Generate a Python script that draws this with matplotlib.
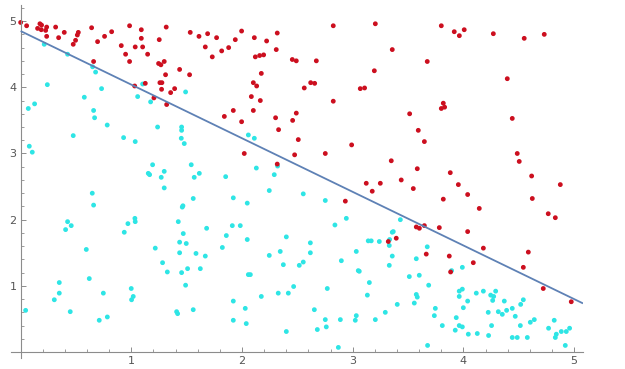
import matplotlib
matplotlib.use("Agg")
import matplotlib.pyplot as plt
import numpy as np
from matplotlib.ticker import MultipleLocator, FixedLocator

# ---- data ----
red_x = [0.000, 0.054, 0.153, 0.174, 0.189, 0.186, 0.226, 0.235, 0.235, 0.316, 0.343, 0.394,
         0.475, 0.496, 0.512, 0.521, 0.641, 0.659, 0.695, 0.758, 0.822, 0.909, 0.948, 0.984,
         0.984, 1.035, 1.090, 1.090, 1.102, 1.147, 1.126, 1.030, 1.252, 1.246, 1.267, 1.297,
         1.309, 1.258, 1.276, 1.273, 1.315, 1.204, 1.319, 1.355, 1.391, 1.436, 1.526, 1.532,
         1.611, 1.668, 1.689,
         1.770, 1.731, 1.816, 1.879, 1.939, 1.996, 2.111, 2.120, 2.159, 2.195, 2.222, 2.318,
         2.309, 2.454, 2.490, 2.671, 2.824, 3.204, 3.357, 3.195, 2.174, 2.102, 2.132, 2.084,
         2.165, 2.102, 1.921, 1.840, 1.996, 2.303, 2.330, 2.457, 2.490, 2.562, 2.620, 2.656,
         2.824, 3.068, 3.107, 2.508, 2.475, 2.020, 2.318, 2.752, 2.990, 3.348,
         3.800, 3.917, 3.963, 4.007, 4.270, 4.549, 4.730, 3.673, 4.396, 3.818, 3.800, 3.830,
         3.514, 4.441, 3.592, 3.647, 4.486, 4.504, 3.583, 3.881,
         3.122, 3.249, 3.176, 2.933, 3.321, 3.393,
         3.438, 3.547, 3.954, 4.038, 3.818, 4.616, 4.622, 4.875, 4.766, 4.830, 4.143, 4.038,
         3.782, 3.574, 3.602, 3.647, 4.180, 3.664, 3.872, 3.884, 4.089, 4.586, 4.541, 4.721,
         4.974]
red_y = [4.98, 4.93, 4.89, 4.96, 4.94, 4.87, 4.86, 4.91, 4.77, 4.91, 4.75, 4.83,
         4.65, 4.71, 4.79, 4.83, 4.90, 4.39, 4.69, 4.77, 4.84, 4.63, 4.50, 4.39,
         4.93, 4.61, 4.87, 4.74, 4.61, 4.50, 4.06, 4.02, 4.72, 4.36, 4.34, 4.39,
         4.19, 4.07, 4.07, 3.97, 4.91, 3.84, 3.74, 3.92, 3.98, 4.27, 4.19, 4.83,
         4.77, 4.61, 4.81,
         4.75, 4.46, 4.55, 4.60, 4.72, 4.85, 4.75, 4.46, 4.48, 4.49, 4.70, 4.82,
         4.57, 4.42, 4.40, 4.40, 4.93, 4.96, 4.57, 4.25, 4.21, 4.07, 4.02, 3.86,
         3.80, 3.65, 3.65, 3.56, 3.48, 3.54, 3.36, 3.50, 3.61, 3.99, 4.07, 4.06,
         3.79, 3.98, 3.99, 3.21, 2.98, 3.00, 2.84, 3.00, 3.13, 2.89,
         4.93, 4.84, 4.78, 4.87, 4.81, 4.74, 4.80, 4.39, 4.13, 3.76, 3.68, 3.70,
         3.60, 3.53, 3.35, 3.18, 3.00, 2.88, 2.77, 2.71,
         2.55, 2.55, 2.43, 2.28, 1.67, 1.72,
         2.60, 2.47, 2.53, 2.38, 2.31, 2.66, 2.32, 2.53, 2.09, 2.03, 2.17, 1.82,
         1.88, 1.89, 1.87, 1.91, 1.57, 1.48, 1.45, 1.21, 1.35, 1.51, 1.28, 0.96,
         0.76]

cyan_x = [0.213, 0.424, 0.650, 0.677, 0.731, 0.241, 0.069, 0.126, 0.575, 0.659, 0.668, 0.782,
          0.475, 0.930, 1.035, 0.078, 0.105, 1.057, 1.174, 1.102, 1.490, 1.237, 1.454, 1.454,
          1.451, 1.478, 1.192, 1.153, 1.165, 1.297, 1.270, 1.541, 1.568, 1.614,
          1.852, 2.057, 2.111, 2.129, 2.291, 2.321,
          1.297, 0.647, 0.659, 0.424, 0.457, 0.406, 0.969, 1.032, 1.035, 0.936, 0.593, 1.216,
          1.424, 1.469, 1.436, 1.436, 1.496, 1.282, 1.325, 1.584, 1.680, 1.668, 1.454, 1.508,
          1.623, 1.490, 0.349, 0.349, 0.304, 0.448, 0.620, 0.747, 0.710, 0.783, 0.999, 1.017,
          1.002, 1.409, 1.418, 1.559, 0.045, 1.559, 1.460, 1.466,
          1.921, 2.047, 2.246, 2.553, 2.752, 1.912, 1.984, 1.858, 2.047, 2.400, 1.822, 2.246,
          2.345, 2.617, 2.617, 2.373, 2.517, 2.553, 2.057, 2.075, 2.466, 2.327, 2.418, 2.174,
          1.921, 2.029, 1.921, 2.038, 2.400, 2.653, 2.680, 2.752, 2.761, 2.770, 2.870, 2.888,
          2.897, 2.839, 2.942, 3.023, 3.032, 3.032, 3.050, 3.059, 3.150, 3.132, 3.140, 3.167,
          3.204, 3.240, 3.294, 3.330, 3.333, 3.357, 3.366, 3.357, 3.330, 3.402, 3.430,
          3.673, 3.574, 3.511, 3.601, 3.686, 3.574, 3.583, 3.556, 3.893, 3.990, 3.746, 3.737,
          3.809, 3.676, 3.935, 3.926, 3.962, 3.990, 3.999, 3.962, 3.962, 3.990, 4.038, 4.044,
          4.125, 4.116, 4.180, 4.224, 4.254, 4.227, 4.246, 4.273, 4.264, 4.291, 4.315, 4.351,
          4.369, 4.390, 4.441, 4.468, 4.514, 4.517, 4.541, 4.441, 4.486, 4.577, 4.604, 4.640,
          4.769, 4.820, 4.839, 4.830, 4.884, 4.929, 4.959, 4.920]
cyan_y = [4.65, 4.50, 4.31, 4.23, 3.98, 4.04, 3.68, 3.75, 3.85, 3.65, 3.54, 3.43,
          3.27, 3.24, 3.18, 3.11, 3.02, 3.86, 3.78, 4.05, 3.93, 3.40, 3.40, 3.35,
          3.23, 3.15, 2.83, 2.70, 2.68, 2.73, 2.64, 2.83, 2.64, 2.70,
          2.65, 3.28, 3.23, 2.78, 2.68, 2.81,
          2.48, 2.40, 2.22, 1.97, 1.91, 1.85, 1.94, 2.02, 1.97, 1.81, 1.55, 1.57,
          1.97, 1.79, 1.66, 1.50, 1.64, 1.35, 1.21, 1.49, 1.87, 1.45, 1.20, 1.26,
          1.26, 1.01, 1.05, 0.89, 0.79, 0.61, 1.11, 0.89, 0.48, 0.53, 0.96, 0.84,
          0.79, 0.61, 0.58, 0.64, 0.63, 2.32, 2.19, 2.21,
          2.33, 2.25, 2.44, 2.39, 2.29, 1.91, 1.91, 1.76, 1.70, 1.74, 1.58, 1.46,
          1.52, 1.65, 1.50, 1.32, 1.31, 1.36, 1.17, 1.17, 0.99, 0.89, 0.89, 0.84,
          0.77, 0.66, 0.48, 0.43, 0.31, 0.64, 0.34, 0.49, 0.38, 0.96, 0.07, 0.49,
          1.38, 1.92, 2.02, 0.48, 0.55, 1.52, 1.23, 1.22, 1.05, 0.86, 1.68, 1.68,
          0.49, 1.67, 0.60, 1.61, 1.70, 1.81, 1.82, 1.45, 1.31, 0.72, 2.00,
          1.59, 1.41, 1.14, 1.16, 1.01, 0.87, 0.83, 0.74, 1.23, 1.28, 0.66, 0.55,
          0.40, 0.10, 0.52, 0.33, 0.40, 0.38, 0.67, 0.84, 0.92, 0.95, 0.77, 0.27,
          0.28, 0.89, 0.92, 0.60, 0.40, 0.25, 0.86, 0.84, 0.78, 0.92, 0.61, 0.57,
          0.77, 0.63, 0.66, 0.54, 0.40, 0.72, 0.79, 0.22, 0.22, 0.22, 0.45, 0.49,
          0.36, 0.48, 0.27, 0.22, 0.31, 0.31, 0.36, 0.10]

line_intercept = 4.85
line_slope = -0.81
line_x_range = [0.0, 5.08]

x_ticks = [1, 2, 3, 4, 5]
y_ticks = [1, 2, 3, 4, 5]

# ---- figure ----
fig = plt.figure(figsize=(6.25, 3.69), dpi=100)
ax = fig.add_axes([0.0171, 0.0298, 0.9157, 0.956])
ax.set_xlim(-0.09, 5.08)
ax.set_ylim(-0.09, 5.24)

red_col = '#cc0f1f'
cyan_col = '#2ee5e5'
ax.scatter(cyan_x, cyan_y, s=12, color=cyan_col, edgecolors='none', zorder=2)
ax.scatter(red_x, red_y, s=12, color=red_col, edgecolors='none', zorder=2)

lx = np.array(line_x_range)
ax.plot(lx, line_intercept + line_slope * lx, color='#5e81b5', lw=1.3, zorder=3,
        solid_capstyle='butt')

for s in ['top', 'right']:
    ax.spines[s].set_visible(False)
ax.spines['left'].set_position(('data', 0))
ax.spines['bottom'].set_position(('data', 0))
for s in ['left', 'bottom']:
    ax.spines[s].set_color('#8c8c8c')
    ax.spines[s].set_linewidth(0.8)

ax.xaxis.set_major_locator(FixedLocator(x_ticks))
ax.yaxis.set_major_locator(FixedLocator(y_ticks))
ax.xaxis.set_minor_locator(MultipleLocator(0.2))
ax.yaxis.set_minor_locator(MultipleLocator(0.2))
ax.tick_params(which='major', direction='in', length=3.5, width=0.7, color='#8c8c8c',
               labelsize=8, labelcolor='#555555', pad=3)
ax.tick_params(which='minor', direction='in', length=2, width=0.6, color='#8c8c8c')
ax.set_xticklabels([str(t) for t in x_ticks])
ax.set_yticklabels([str(t) for t in y_ticks])

fig.savefig('out.png', dpi=100, facecolor='white')
